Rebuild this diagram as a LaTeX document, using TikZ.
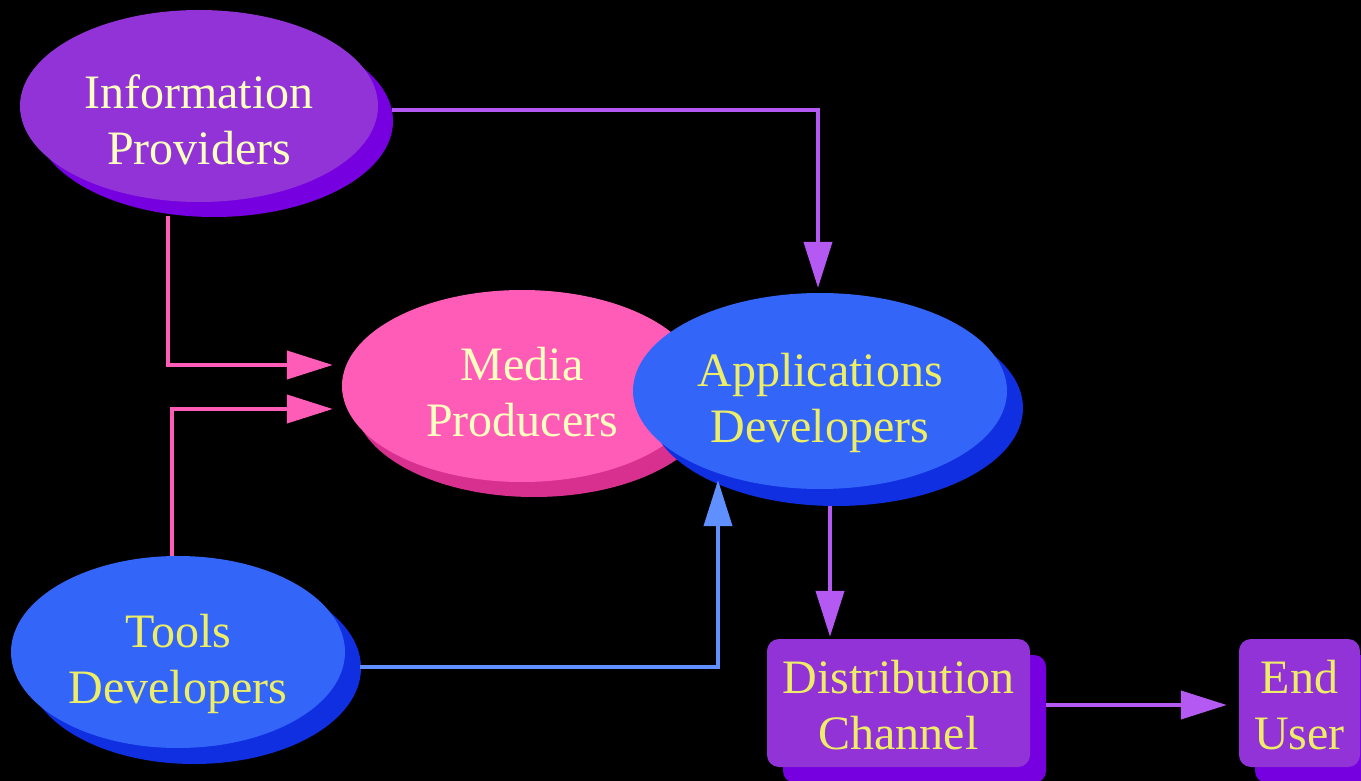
\documentclass[tikz,border=0pt]{standalone}
\usepackage{fontspec}
\setmainfont{Liberation Serif}
\usetikzlibrary{shapes.geometric,shadows,arrows.meta,calc}
\definecolor{ipfill}{HTML}{9133D7}
\definecolor{ipdark}{HTML}{7700E0}
\definecolor{mpfill}{HTML}{FF5CB8}
\definecolor{mpdark}{HTML}{D8308F}
\definecolor{bluefill}{HTML}{3366F8}
\definecolor{bluedark}{HTML}{0F2FE0}
\definecolor{cream}{HTML}{FFFFC0}
\definecolor{yel}{HTML}{EEEE66}
\definecolor{arrpurple}{HTML}{B45AF2}
\definecolor{arrpink}{HTML}{FF5CB8}
\definecolor{arrblue}{HTML}{6090FF}
\begin{document}
\begin{tikzpicture}[x=1pt,y=-1pt,
  bigtext/.style={font=\fontsize{48}{56.5}\selectfont, align=center, inner sep=0pt, text depth=0pt},
  ell/.style={ellipse, bigtext},
  roundbox/.style={rectangle, rounded corners=12pt, bigtext},
  conn/.style={line width=4pt, -{Triangle[length=46pt,width=28pt]}},
]
\fill[black] (0,0) rectangle (1361,781);
\useasboundingbox (0,0) rectangle (1361,781);

\node[ell, fill=ipfill, text=cream, minimum width=358pt, minimum height=192pt,
  text height=117pt,
  general shadow={fill=ipdark, shadow xshift=15pt, shadow yshift=-15pt}]
  (ip) at (199,106) {Information\\Providers};

\node[ell, fill=mpfill, text=cream, minimum width=360pt, minimum height=192pt,
  text height=101pt,
  general shadow={fill=mpdark, shadow xshift=12pt, shadow yshift=-15pt}]
  (mp) at (522,386) {Media\\Producers};

\node[ell, fill=bluefill, text=yel, minimum width=374pt, minimum height=196pt,
  text height=103pt,
  general shadow={fill=bluedark, shadow xshift=16pt, shadow yshift=-17pt}]
  (ad) at (820,391) {Applications\\Developers};

\node[ell, fill=bluefill, text=yel, minimum width=334pt, minimum height=192pt,
  text height=103pt,
  general shadow={fill=bluedark, shadow xshift=16pt, shadow yshift=-16pt}]
  (td) at (178,652) {Tools\\Developers};

\node[roundbox, fill=ipfill, text=yel, minimum width=263pt, minimum height=128pt,
  text height=93pt,
  general shadow={fill=ipdark, shadow xshift=16pt, shadow yshift=-16pt}]
  (dc) at (898.5,703) {Distribution\\Channel};

\node[roundbox, fill=ipfill, text=yel, minimum width=121pt, minimum height=128pt,
  text height=93pt,
  general shadow={fill=ipdark, shadow xshift=16pt, shadow yshift=-16pt}]
  (eu) at (1299.5,703) {End\\User};

\coordinate (p1s) at ($(ip.east)+(14,4)$);
\coordinate (p1e) at ($(ad.north)+(-2,-5)$);
\draw[conn, arrpurple] (p1s) -| (p1e);

\coordinate (p2s) at ($(ip.south)+(-31,14)$);
\coordinate (p2e) at ($(mp.west)+(-9,-21)$);
\draw[conn, arrpink] (p2s) |- (p2e);

\coordinate (p3s) at ($(td.north)+(-6,0)$);
\coordinate (p3e) at ($(mp.west)+(-9,23)$);
\draw[conn, arrpink] (p3s) |- (p3e);

\coordinate (p4s) at ($(td.east)+(15,15)$);
\coordinate (p4e) at ($(ad.south)+(-102,-9)$);
\draw[conn, arrblue] (p4s) -| (p4e);

\coordinate (p5s) at ($(ad.south)+(10,17)$);
\coordinate (p5e) at ($(dc.north)+(-68.5,-2)$);
\draw[conn, arrpurple] (p5s) -- (p5e);

\coordinate (p6s) at ($(dc.east)+(16,2)$);
\coordinate (p6e) at ($(eu.west)+(-12,2)$);
\draw[conn, arrpurple] (p6s) -- (p6e);
\end{tikzpicture}
\end{document}
